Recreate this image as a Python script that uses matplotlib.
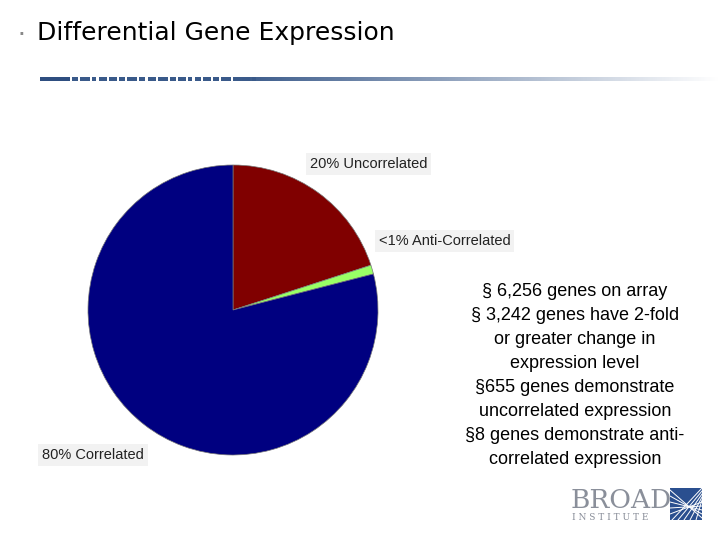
import matplotlib
matplotlib.use("Agg")
import matplotlib.pyplot as plt
import numpy as np
from matplotlib.patches import Rectangle
from matplotlib.colors import LinearSegmentedColormap

labels = ["20% Uncorrelated", "<1% Anti-Correlated", "80% Correlated"]
values = [20, 1, 79]
colors = ["#800000", "#99ff66", "#000080"]
bullets = ["§ 6,256 genes on array", "§ 3,242 genes have 2-fold", "or greater change in",
           "expression level", "§655 genes demonstrate", "uncorrelated expression",
           "§8 genes demonstrate anti-", "correlated expression"]

W, H = 720, 540
fig = plt.figure(figsize=(7.2, 5.4), dpi=100)
bg = fig.add_axes([0, 0, 1, 1])
bg.set_xlim(0, W); bg.set_ylim(H, 0); bg.axis("off")

bg.text(20, 33, "▪", fontsize=4, color="#888888", va="center")
bg.text(37, 33, "Differential Gene Expression", fontsize=18, family="DejaVu Sans",
        va="center", ha="left", color="black")
grad = np.linspace(0, 1, 300).reshape(1, -1)
cm = LinearSegmentedColormap.from_list("g", ["#3a5a8a", "#ffffff"])
bg.imshow(grad, cmap=cm, extent=(235, 720, 81, 77), aspect="auto", zorder=1)
bg.add_patch(Rectangle((40, 77), 30, 4, color="#2e4e80", lw=0))
xs = 72
for w in [6, 10, 4, 8, 8, 6, 10, 6, 8, 10, 6, 8, 4, 6, 8, 6, 10, 6, 8, 4]:
    bg.add_patch(Rectangle((xs, 77), w, 4, color="#3a5a8a", lw=0))
    xs += w + 2.2
bg.set_xlim(0, W); bg.set_ylim(H, 0)

ax = fig.add_axes([(233 - 145) / W, (H - 310 - 145) / H, 290 / W, 290 / H])
ax.pie(values, colors=colors, startangle=90, counterclock=False, radius=1,
       wedgeprops=dict(edgecolor="#777777", linewidth=0.5))
ax.set_xlim(-1, 1); ax.set_ylim(-1, 1)
ax.set_aspect("equal")

box = dict(boxstyle="square,pad=0.25", facecolor="#f2f2f2", edgecolor="none")
bg.text(310, 164, labels[0], fontsize=10.5, color="#222222", va="center", bbox=box, family="Liberation Sans")
bg.text(379, 241, labels[1], fontsize=10.5, color="#222222", va="center", bbox=box, family="Liberation Sans")
bg.text(42, 455, labels[2], fontsize=10.5, color="#222222", va="center", bbox=box, family="Liberation Sans")

for i, line in enumerate(bullets):
    bg.text(575, 292 + i * 24, line, fontsize=13, ha="center", va="center",
            family="Liberation Sans", color="black")

bg.text(571, 500, "BROAD", fontsize=19, family="DejaVu Serif", color="#8a8f9a", va="center")
bg.text(572, 517, "I N S T I T U T E", fontsize=6.5, family="DejaVu Serif", color="#8a8f9a", va="center")
bg.add_patch(Rectangle((670, 488), 32, 32, color="#2a4f8f", lw=0))
for k in range(5):
    bg.plot([670, 702], [490 + k * 6, 518 - k * 4], color="white", lw=0.7)
    bg.plot([672 + k * 6, 702], [520, 488 + k * 3], color="white", lw=0.7)
bg.set_xlim(0, W); bg.set_ylim(H, 0)

fig.savefig("out.png", dpi=100)
